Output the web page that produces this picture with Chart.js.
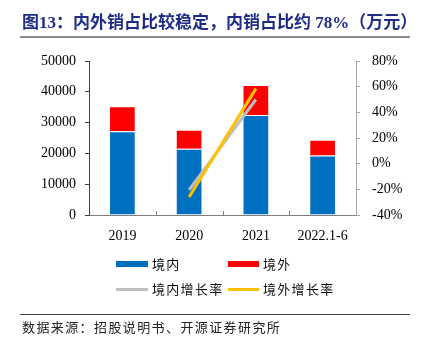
<!DOCTYPE html>
<html><head><meta charset="utf-8">
<script src="https://cdn.jsdelivr.net/npm/chart.js@4"></script>
<style>
html,body{margin:0;padding:0;background:#fff;}
#wrap{position:relative;width:430px;height:347px;overflow:hidden;}
#c{position:absolute;left:0;top:0;}
.t{position:absolute;white-space:nowrap;}
#title{left:22px;top:12px;font:bold 17px "Liberation Serif","Noto Sans CJK SC";color:#1F2D86;line-height:22px;}
#tline{position:absolute;left:20px;top:36px;width:390px;height:2px;background:#8c8c8c;}
#fline{position:absolute;left:20px;top:314px;width:390px;height:1px;background:#404040;}
#foot{left:22px;top:318px;font:13px "Noto Sans CJK SC";letter-spacing:1.4px;color:#222;line-height:18px;}
.lg{position:absolute;font:13px "Noto Sans CJK SC";letter-spacing:1.3px;color:#111;line-height:18px;}
.sw{position:absolute;}
</style></head>
<body><div id="wrap">
<canvas id="c" width="430" height="347"></canvas>
<div id="title" class="t">图13：内外销占比较稳定，内销占比约 78%（万元）</div>
<div id="tline"></div>
<div id="leg"></div>
<div id="fline"></div>
<div id="foot" class="t">数据来源：招股说明书、开源证券研究所</div>
</div>
<script>
const categories = ['2019', '2020', '2021', '2022.1-6'];
const domestic = [27200, 21500, 32500, 19300];
const overseas = [8100, 6200, 9700, 5100];
const domesticGrowth = [null, -20.5, 50.0, null];
const overseasGrowth = [null, -26.0, 58.5, null];
const leftTicks = {min: 0, max: 50000, step: 10000};
const rightTicks = {min: -40, max: 80, step: 20};
const seriesNames = ['境内', '境外', '境内增长率', '境外增长率'];
const colors = ['#0070C0', '#FF0000', '#BFBFBF', '#FFC000'];

// HTML legend
const legItems = [
  {name: seriesNames[0], c: colors[0], x: 116, y: 264, w: 32, h: 6},
  {name: seriesNames[1], c: colors[1], x: 228, y: 264, w: 31, h: 6},
  {name: seriesNames[2], c: colors[2], x: 116, y: 289, w: 32, h: 3},
  {name: seriesNames[3], c: colors[3], x: 228, y: 289, w: 31, h: 3}
];
const leg = document.getElementById('leg');
legItems.forEach(it => {
  const s = document.createElement('div');
  s.className = 'sw';
  s.style.cssText = `left:${it.x}px;top:${it.y - it.h/2}px;width:${it.w}px;height:${it.h}px;background:${it.c};`;
  leg.appendChild(s);
  const t = document.createElement('div');
  t.className = 'lg';
  t.style.cssText = `left:${it.x + it.w + 4}px;top:${it.y - 9}px;`;
  t.textContent = it.name;
  leg.appendChild(t);
});

const innerTicks = {
  id: 'innerTicks',
  afterDraw(chart) {
    const xs = chart.scales.x, ctx = chart.ctx;
    const y = chart.chartArea.bottom;
    ctx.save();
    ctx.strokeStyle = '#7f7f7f';
    ctx.lineWidth = 1;
    for (let i = 1; i < categories.length; i++) {
      const px = Math.round((xs.getPixelForValue(i - 1) + xs.getPixelForValue(i)) / 2) + 0.5;
      ctx.beginPath(); ctx.moveTo(px, y); ctx.lineTo(px, y - 4); ctx.stroke();
    }
    ctx.restore();
  }
};

const serif = {family: '"Liberation Serif", "Times New Roman", serif', size: 14};
new Chart(document.getElementById('c'), {
  data: {
    labels: categories,
    datasets: [
      {type: 'bar', label: seriesNames[0], data: domestic, backgroundColor: colors[0], yAxisID: 'y', order: 3, stack: 's',
       borderColor: 'rgba(255,255,255,0.35)', borderWidth: 1, barPercentage: 0.4, categoryPercentage: 1},
      {type: 'bar', label: seriesNames[1], data: overseas, backgroundColor: colors[1], yAxisID: 'y', order: 3, stack: 's',
       borderColor: 'rgba(255,255,255,0.35)', borderWidth: 1, barPercentage: 0.4, categoryPercentage: 1},
      {type: 'line', label: seriesNames[2], data: domesticGrowth, borderColor: colors[2], borderWidth: 3, pointRadius: 0, yAxisID: 'y1', order: 2, spanGaps: false},
      {type: 'line', label: seriesNames[3], data: overseasGrowth, borderColor: colors[3], borderWidth: 3, pointRadius: 0, yAxisID: 'y1', order: 1, spanGaps: false}
    ]
  },
  options: {
    responsive: false,
    animation: false,
    events: [],
    layout: {padding: {top: 61, left: 0, right: 0, bottom: 0}},
    plugins: {legend: {display: false}, tooltip: {enabled: false}},
    scales: {
      x: {
        stacked: true,
        grid: {display: false},
        border: {display: true, color: '#7f7f7f', width: 1},
        ticks: {font: serif, color: '#000', padding: 5},
        afterFit: s => { s.height = 132; }
      },
      y: {
        position: 'left', stacked: true,
        min: leftTicks.min, max: leftTicks.max,
        ticks: {stepSize: leftTicks.step, font: serif, color: '#000', padding: 9, callback: v => String(v)},
        grid: {drawOnChartArea: false, tickLength: 4, color: '#404040'},
        border: {display: true, color: '#404040', width: 1},
        afterFit: s => { s.width = 89; }
      },
      y1: {
        position: 'right',
        min: rightTicks.min, max: rightTicks.max,
        ticks: {stepSize: rightTicks.step, font: serif, color: '#000', padding: 12, callback: v => v + '%'},
        grid: {drawOnChartArea: false, tickLength: 4, color: '#a6a6a6'},
        border: {display: true, color: '#a6a6a6', width: 1},
        afterFit: s => { s.width = 74; }
      }
    }
  },
  plugins: [innerTicks]
});
</script>
</body></html>
